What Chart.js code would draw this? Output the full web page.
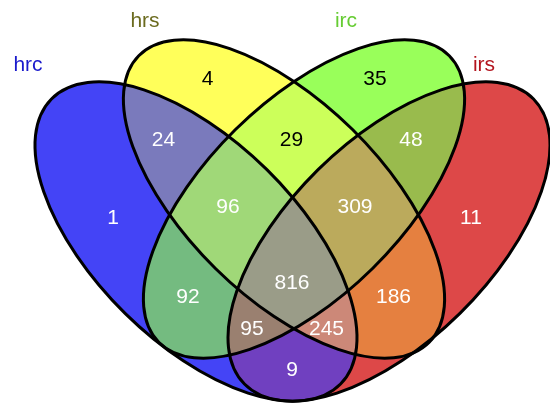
<!DOCTYPE html>
<html>
<head>
<meta charset="utf-8">
<script src="https://cdn.jsdelivr.net/npm/chart.js@4.4.1/dist/chart.umd.min.js"></script>
<style>
  html, body { margin: 0; padding: 0; background: #fff; }
  #wrap { width: 550px; height: 406px; }
</style>
</head>
<body>
<div id="wrap"><canvas id="venn" width="550" height="406"></canvas></div>
<script>
// Venn data
const setNames = ['hrc', 'hrs', 'irc', 'irs'];
const regionKeys = ['hrc', 'hrs', 'irc', 'irs',
  'hrc&hrs', 'hrc&irc', 'hrc&irs', 'hrs&irc', 'hrs&irs', 'irc&irs',
  'hrc&hrs&irc', 'hrc&hrs&irs', 'hrc&irc&irs', 'hrs&irc&irs', 'hrc&hrs&irc&irs'];
const regionCounts = [1, 4, 35, 11, 24, 92, 9, 29, 186, 48, 96, 245, 95, 309, 816];

// Layout (frame units = px of the 550x406 picture)
const ellipses = {
  hrc: { cx: 196, cy: 241.5, a: 203, b: 101, rot: 44.6 },
  hrs: { cx: 284, cy: 199, a: 204, b: 97.6, rot: 44.6 },
  irc: { cx: 304, cy: 199, a: 204, b: 97.6, rot: -44.6 },
  irs: { cx: 389, cy: 241.5, a: 203, b: 101, rot: -44.6 }
};
const setLabelPos = { hrc: [28, 71], hrs: [145, 27], irc: [346, 27], irs: [484, 71] };
const setLabelColor = { hrc: '#1a1acc', hrs: '#6b6b1f', irc: '#66cc33', irs: '#b3141e' };

const regionPos = {
  'hrc': [113, 217], 'hrs': [207.5, 78.5], 'irc': [375, 78], 'irs': [471, 217],
  'hrc&hrs': [163.5, 139.5], 'hrc&irc': [188, 296.5], 'hrc&irs': [292, 369],
  'hrs&irc': [291.5, 139.5], 'hrs&irs': [393.5, 296.5], 'irc&irs': [411, 139.5],
  'hrc&hrs&irc': [228, 206], 'hrc&hrs&irs': [326.5, 328.5], 'hrc&irc&irs': [252, 328.5],
  'hrs&irc&irs': [355, 206], 'hrc&hrs&irc&irs': [292, 282.5]
};
const regionFill = {
  'hrc': '#4444f6', 'hrs': '#ffff5a', 'irc': '#99ff5a', 'irs': '#dd4848',
  'hrc&hrs': '#7a7abc', 'hrc&irc': '#74bb80', 'hrc&irs': '#7040c0',
  'hrs&irc': '#ccff5a', 'hrs&irs': '#e58040', 'irc&irs': '#99bb4d',
  'hrc&hrs&irc': '#a0d878', 'hrc&hrs&irs': '#cc8878', 'hrc&irc&irs': '#9a8070',
  'hrs&irc&irs': '#bbaa5c', 'hrc&hrs&irc&irs': '#9a9c88'
};
const darkText = ['hrs', 'irc', 'hrs&irc'];

function ellipsePath(chart, name) {
  const { x, y } = chart.scales;
  const e = ellipses[name];
  const unit = Math.abs(x.getPixelForValue(1) - x.getPixelForValue(0));
  const p = new Path2D();
  p.ellipse(x.getPixelForValue(e.cx), y.getPixelForValue(e.cy), e.a * unit, e.b * unit,
    e.rot * Math.PI / 180, 0, 2 * Math.PI);
  return p;
}

const vennPlugin = {
  id: 'venn',
  beforeDatasetsDraw(chart) {
    const ctx = chart.ctx;
    const W = chart.width, H = chart.height;
    const paths = {};
    setNames.forEach(n => { paths[n] = ellipsePath(chart, n); });

    // paint every region with its own colour
    regionKeys.forEach(key => {
      const members = key.split('&');
      ctx.save();
      setNames.forEach(n => {
        if (members.includes(n)) {
          ctx.clip(paths[n]);
        } else {
          const out = new Path2D();
          out.rect(-10, -10, W + 20, H + 20);
          out.addPath(paths[n]);
          ctx.clip(out, 'evenodd');
        }
      });
      ctx.fillStyle = regionFill[key];
      ctx.fillRect(0, 0, W, H);
      ctx.restore();
    });

    ctx.save();
    ctx.lineWidth = 3;
    ctx.strokeStyle = '#000';
    setNames.forEach(n => ctx.stroke(paths[n]));
    ctx.restore();
  },
  afterDatasetsDraw(chart) {
    const ctx = chart.ctx;
    const { x, y } = chart.scales;
    ctx.save();
    // region counts
    const meta = chart.getDatasetMeta(0);
    ctx.font = '21px "Liberation Sans", Arial, sans-serif';
    ctx.textAlign = 'center';
    ctx.textBaseline = 'middle';
    meta.data.forEach((pt, i) => {
      const key = regionKeys[i];
      ctx.fillStyle = darkText.includes(key) ? '#000' : '#fff';
      ctx.fillText(String(regionCounts[i]), pt.x, pt.y + 1);
    });
    // set names
    ctx.textBaseline = 'alphabetic';
    setNames.forEach(n => {
      ctx.fillStyle = setLabelColor[n];
      ctx.fillText(n, x.getPixelForValue(setLabelPos[n][0]), y.getPixelForValue(setLabelPos[n][1]));
    });
    ctx.restore();
  }
};

new Chart(document.getElementById('venn'), {
  type: 'scatter',
  data: {
    datasets: [{
      label: 'regions',
      data: regionKeys.map((k, i) => ({ x: regionPos[k][0], y: regionPos[k][1], v: regionCounts[i] })),
      pointRadius: 0,
      pointHoverRadius: 0
    }]
  },
  options: {
    responsive: false,
    animation: false,
    devicePixelRatio: 1,
    layout: { padding: 0 },
    events: [],
    scales: {
      x: { type: 'linear', display: false, min: 0, max: 550 },
      y: { type: 'linear', display: false, min: 0, max: 406, reverse: true }
    },
    plugins: {
      legend: { display: false },
      tooltip: { enabled: false }
    }
  },
  plugins: [vennPlugin]
});
</script>
</body>
</html>
